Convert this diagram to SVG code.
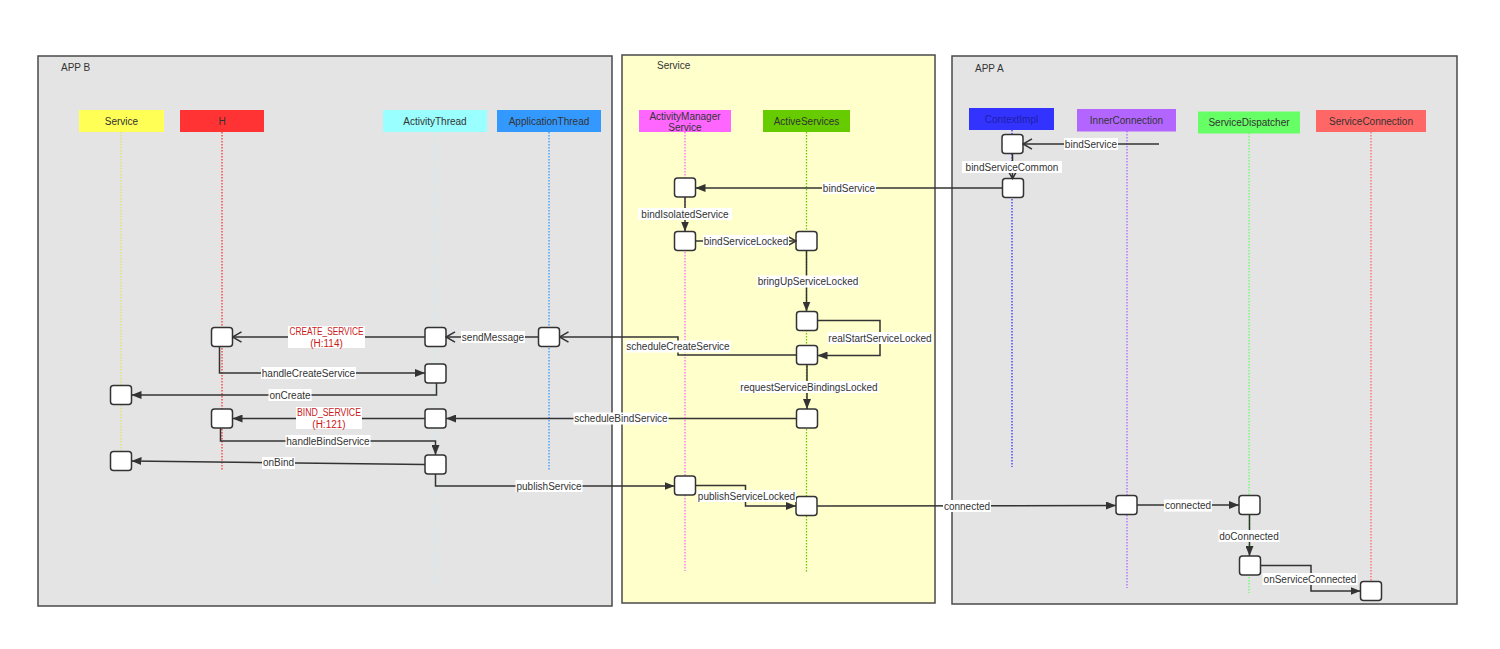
<svg xmlns="http://www.w3.org/2000/svg" width="1500" height="649" viewBox="0 0 1500 649">
<defs>
<style>
text{font-family:"Liberation Sans","DejaVu Sans",Arial,sans-serif;font-size:10px;fill:#333;}
.frame{stroke:#4a4a4a;stroke-width:1.5;}
.ftitle{font-size:10px;fill:#333;}
.hdr text{text-anchor:middle;}
.life{fill:none;stroke-width:1.3;stroke-dasharray:1.5 1.5;}
.act{fill:#fff;stroke:#333;stroke-width:1.5;}
.conn path{fill:none;stroke:#333;stroke-width:1.5;}
.lbl rect{fill:#fff;}
.lbl text{text-anchor:middle;}
.red text{fill:#cc1a1a;}
</style>
<marker id="fa" viewBox="0 0 10 8" refX="10" refY="4" markerWidth="10" markerHeight="8" markerUnits="userSpaceOnUse" orient="auto">
<path d="M0,0 L10,4 L0,8 z" fill="#333"/>
</marker>
<marker id="oa" viewBox="0 0 11 12" refX="10" refY="6" markerWidth="11" markerHeight="12" markerUnits="userSpaceOnUse" orient="auto">
<path d="M1,0.8 L10,6 L1,11.2" fill="none" stroke="#333" stroke-width="1.5"/>
</marker>
</defs>
<rect width="1500" height="649" fill="#fff"/>

<!-- frames -->
<g id="frame-appb">
<rect class="frame" x="38" y="56" width="574" height="550" fill="#e4e4e4"/>
<text class="ftitle" x="61" y="71">APP B</text>
</g>
<g id="frame-service">
<rect class="frame" x="622" y="55" width="313" height="548" fill="#ffffcc"/>
<text class="ftitle" x="657" y="69">Service</text>
</g>
<g id="frame-appa">
<rect class="frame" x="952" y="56" width="505" height="548" fill="#e4e4e4"/>
<text class="ftitle" x="975" y="72">APP A</text>
</g>

<!-- lifelines -->
<g id="lifelines">
<path class="life" d="M121,132 V466" stroke="#e2e26a"/>
<path class="life" d="M222,132 V471" stroke="#ff3333"/>
<path class="life" d="M435.5,132 V583" stroke="#c4f3f3"/>
<path class="life" d="M549,132 V471" stroke="#3399ff"/>
<path class="life" d="M685,132 V571" stroke="#ff66ff"/>
<path class="life" d="M806.5,132 V572" stroke="#66cc00"/>
<path class="life" d="M1012,130 V467" stroke="#3333ff"/>
<path class="life" d="M1127,131 V588" stroke="#b266ff"/>
<path class="life" d="M1249,133 V593" stroke="#66ff66"/>
<path class="life" d="M1371,132 V583" stroke="#ff6666"/>
</g>

<!-- headers -->
<g id="hdr-service" class="hdr"><rect x="79" y="110" width="85" height="22" fill="#ffff55"/><text x="121.5" y="124.5">Service</text></g>
<g id="hdr-h" class="hdr"><rect x="180" y="110" width="84" height="22" fill="#ff3333"/><text x="222" y="124.5">H</text></g>
<g id="hdr-activitythread" class="hdr"><rect x="383" y="110" width="104" height="22" fill="#99ffff"/><text x="435" y="124.5">ActivityThread</text></g>
<g id="hdr-applicationthread" class="hdr"><rect x="497" y="110" width="104" height="22" fill="#3399ff"/><text x="549" y="124.5">ApplicationThread</text></g>
<g id="hdr-ams" class="hdr"><rect x="639" y="110" width="92" height="22" fill="#ff66ff"/><text x="685" y="119.5">ActivityManager</text><text x="685" y="131">Service</text></g>
<g id="hdr-activeservices" class="hdr"><rect x="763" y="110" width="87" height="22" fill="#66cc00"/><text x="806.5" y="124.5">ActiveServices</text></g>
<g id="hdr-contextimpl" class="hdr"><rect x="969" y="108" width="85" height="22" fill="#3333ff"/><text x="1011.5" y="122.5" style="fill:#1f1fa8">ContextImpl</text></g>
<g id="hdr-innerconnection" class="hdr"><rect x="1077" y="109" width="99" height="22.5" fill="#b266ff"/><text x="1126.5" y="123.5">InnerConnection</text></g>
<g id="hdr-servicedispatcher" class="hdr"><rect x="1198" y="111.5" width="102" height="22" fill="#66ff66"/><text x="1249" y="126">ServiceDispatcher</text></g>
<g id="hdr-serviceconnection" class="hdr"><rect x="1316" y="110" width="110" height="22" fill="#ff6666"/><text x="1371" y="124.5">ServiceConnection</text></g>

<!-- activations -->
<g id="act-ci1"><rect class="act" x="1002" y="134.5" width="21" height="19" rx="3"/></g>
<g id="act-ci2"><rect class="act" x="1002.5" y="178.5" width="21" height="19" rx="3"/></g>
<g id="act-ams1"><rect class="act" x="674.5" y="178" width="21" height="19" rx="3"/></g>
<g id="act-ams2"><rect class="act" x="674.5" y="231.5" width="21" height="19" rx="3"/></g>
<g id="act-as1"><rect class="act" x="796" y="231.5" width="21" height="19" rx="3"/></g>
<g id="act-as2"><rect class="act" x="796.5" y="311.5" width="21" height="19" rx="3"/></g>
<g id="act-as3"><rect class="act" x="796.5" y="345.5" width="21" height="19" rx="3"/></g>
<g id="act-as4"><rect class="act" x="796.5" y="409" width="21" height="19" rx="3"/></g>
<g id="act-appthread"><rect class="act" x="538.5" y="327.5" width="21" height="19" rx="3"/></g>
<g id="act-at1"><rect class="act" x="425" y="327.5" width="21" height="19" rx="3"/></g>
<g id="act-h1"><rect class="act" x="211.5" y="327.5" width="21" height="19" rx="3"/></g>
<g id="act-at2"><rect class="act" x="425" y="364" width="21" height="19" rx="3"/></g>
<g id="act-s1"><rect class="act" x="110.5" y="385.5" width="21" height="19" rx="3"/></g>
<g id="act-h2"><rect class="act" x="211.5" y="409" width="21" height="19" rx="3"/></g>
<g id="act-at3"><rect class="act" x="425" y="409" width="21" height="19" rx="3"/></g>
<g id="act-at4"><rect class="act" x="425" y="455" width="21" height="19" rx="3"/></g>
<g id="act-s2"><rect class="act" x="110.5" y="451.5" width="21" height="19" rx="3"/></g>
<g id="act-ams3"><rect class="act" x="674.5" y="476" width="21" height="19" rx="3"/></g>
<g id="act-as5"><rect class="act" x="796" y="496.5" width="21" height="19" rx="3"/></g>
<g id="act-ic"><rect class="act" x="1116" y="495.5" width="21" height="19" rx="3"/></g>
<g id="act-sd1"><rect class="act" x="1239" y="495.5" width="21" height="19" rx="3"/></g>
<g id="act-sd2"><rect class="act" x="1239.5" y="556" width="21" height="19" rx="3"/></g>
<g id="act-sc"><rect class="act" x="1360.5" y="581.5" width="21" height="19" rx="3"/></g>

<!-- connectors -->
<g id="connectors" class="conn">
<path d="M1159,144 H1023" marker-end="url(#oa)"/>
<path d="M1012.5,153.5 V178.5" marker-end="url(#oa)"/>
<path d="M1002.5,188 H695.5" marker-end="url(#fa)"/>
<path d="M685,197 V231.5" marker-end="url(#fa)"/>
<path d="M695.5,241 H796" marker-end="url(#oa)"/>
<path d="M806.5,250.5 V311.5" marker-end="url(#fa)"/>
<path d="M817.5,320.5 H880 V355.5 H817.5" marker-end="url(#fa)"/>
<path d="M796.5,355 H678 V337 H559.5" marker-end="url(#oa)"/>
<path d="M538.5,337 H446" marker-end="url(#oa)"/>
<path d="M425,337 H232.5" marker-end="url(#oa)"/>
<path d="M219.5,346.5 V373 H425" marker-end="url(#fa)"/>
<path d="M436.5,383 V395 H131.5" marker-end="url(#fa)"/>
<path d="M807,364.5 V409" marker-end="url(#fa)"/>
<path d="M796.5,418.5 H446" marker-end="url(#fa)"/>
<path d="M425,418.5 H232.5" marker-end="url(#fa)"/>
<path d="M220.5,428 V441 H435.5 V455" marker-end="url(#fa)"/>
<path d="M425,464.5 L131.5,461" marker-end="url(#fa)"/>
<path d="M435.5,474 V486 H674.5" marker-end="url(#fa)"/>
<path d="M695.5,485.5 H745.5 V506 H796" marker-end="url(#fa)"/>
<path d="M817,506 L1116,505.5" marker-end="url(#fa)"/>
<path d="M1137,505 H1239" marker-end="url(#fa)"/>
<path d="M1249.5,514.5 V556" marker-end="url(#fa)"/>
<path d="M1260.5,565.5 H1311 V591 H1360.5" marker-end="url(#fa)"/>
</g>

<!-- labels -->
<g id="labels">
<g class="lbl"><rect x="1064" y="138" width="54" height="12"/><text x="1091" y="147.5">bindService</text></g>
<g class="lbl"><rect x="962" y="161" width="100" height="12"/><text x="1012" y="170.5">bindServiceCommon</text></g>
<g class="lbl"><rect x="822" y="182" width="54" height="12"/><text x="849" y="191.5">bindService</text></g>
<g class="lbl"><rect x="638" y="208" width="94" height="12"/><text x="685" y="217.5">bindIsolatedService</text></g>
<g class="lbl"><rect x="703" y="235" width="86" height="12"/><text x="746" y="244.5">bindServiceLocked</text></g>
<g class="lbl"><rect x="757" y="275.5" width="102" height="12"/><text x="808" y="285">bringUpServiceLocked</text></g>
<g class="lbl"><rect x="827.5" y="332" width="105" height="12"/><text x="880" y="341.5">realStartServiceLocked</text></g>
<g class="lbl"><rect x="625.5" y="340.5" width="105" height="12"/><text x="678" y="350">scheduleCreateService</text></g>
<g class="lbl"><rect x="461" y="331" width="64" height="12"/><text x="493" y="340.5">sendMessage</text></g>
<g class="lbl red"><rect x="288" y="326" width="77" height="22"/><text x="326.5" y="335" textLength="74" lengthAdjust="spacingAndGlyphs">CREATE_SERVICE</text><text x="326.5" y="347">(H:114)</text></g>
<g class="lbl"><rect x="261" y="367" width="95" height="12"/><text x="308.5" y="376.5">handleCreateService</text></g>
<g class="lbl"><rect x="268.5" y="389" width="43" height="12"/><text x="290" y="398.5">onCreate</text></g>
<g class="lbl"><rect x="573.5" y="412.5" width="95" height="12"/><text x="621" y="422">scheduleBindService</text></g>
<g class="lbl"><rect x="739.5" y="381" width="139" height="12"/><text x="809" y="390.5">requestServiceBindingsLocked</text></g>
<g class="lbl red"><rect x="296" y="407" width="66" height="22"/><text x="329" y="416" textLength="64" lengthAdjust="spacingAndGlyphs">BIND_SERVICE</text><text x="329" y="428">(H:121)</text></g>
<g class="lbl"><rect x="285.5" y="435" width="85" height="12"/><text x="328" y="444.5">handleBindService</text></g>
<g class="lbl"><rect x="262" y="457" width="33" height="12"/><text x="278.5" y="466">onBind</text></g>
<g class="lbl"><rect x="515.5" y="480" width="67" height="12"/><text x="549" y="489.5">publishService</text></g>
<g class="lbl"><rect x="697" y="490" width="99" height="12"/><text x="746.5" y="499.5">publishServiceLocked</text></g>
<g class="lbl"><rect x="943" y="500" width="48" height="12"/><text x="967" y="509.5">connected</text></g>
<g class="lbl"><rect x="1164" y="499.5" width="48" height="12"/><text x="1188" y="509">connected</text></g>
<g class="lbl"><rect x="1218.5" y="530" width="61" height="12"/><text x="1249" y="539.5">doConnected</text></g>
<g class="lbl"><rect x="1262.5" y="573" width="95" height="12"/><text x="1310" y="582.5">onServiceConnected</text></g>
</g>
</svg>
